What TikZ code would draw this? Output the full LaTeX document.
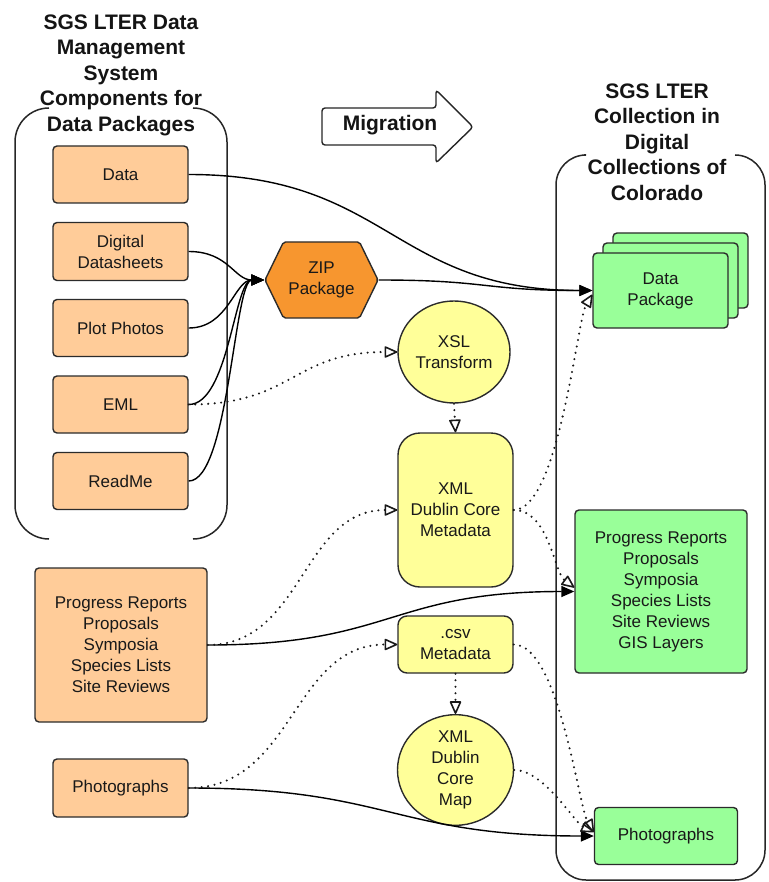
\documentclass[tikz,border=0pt]{standalone}
\usepackage{fontspec}
\setmainfont{Liberation Sans}
\usetikzlibrary{arrows.meta,shapes.geometric,calc}
\definecolor{peach}{HTML}{FFCC99}
\definecolor{zipor}{HTML}{F7962F}
\definecolor{yel}{HTML}{FFFF99}
\definecolor{grn}{HTML}{99FF99}
\definecolor{edgec}{HTML}{2B2B2B}
\tikzset{
  base/.style={draw=edgec, line width=1.4pt, text=black!90, font=\fontsize{17}{21}\selectfont, align=center, inner sep=0pt},
  obox/.style={base, rectangle, rounded corners=4pt, fill=peach, minimum width=135pt, minimum height=57pt},
  gbox/.style={base, rectangle, rounded corners=4pt, fill=grn},
  ybox/.style={base, rectangle, fill=yel, minimum width=115pt},
  yell/.style={base, ellipse, fill=yel},
  ttl/.style={font=\bfseries\fontsize{21}{25.5}\selectfont, align=center, text=black!92, inner sep=0pt},
  cont/.style={draw=black!85, line width=1.5pt},
  solidarr/.style={draw=black, line width=1.4pt, -{Triangle[length=13pt,width=11pt]}},
  dotarr/.style={draw=black!90, line width=2.3pt, line cap=round, dash pattern=on 0pt off 6.5pt,
    -{Triangle[open,length=14pt,width=12pt,line width=1.6pt,round]}}
}
\begin{document}
\begin{tikzpicture}[x=1pt,y=-1pt]
\useasboundingbox (0,0) rectangle (768,882);
% containers
\draw[cont, rounded corners=34pt] (49,108) -- (15,108) -- (15,539) -- (49,539);
\draw[cont, rounded corners=34pt] (193,108) -- (227,108) -- (227,539) -- (193,539);
\draw[cont, rounded corners=30pt] (584,155) -- (556,155) -- (556,880) -- (765,880) -- (765,155) -- (735,155);
% titles
\node[ttl] (tl) at (121,75) {SGS LTER Data\\Management\\System\\Components for\\Data Packages};
\node[ttl] (tr) at (657,142) {SGS LTER\\Collection in\\Digital\\Collections of\\Colorado};
% migration arrow
\draw[cont, fill=white, line width=1.4pt, rounded corners=3pt] (322,108) -- (436,108) -- (436,90) -- (473,127) -- (436,163) -- (436,145) -- (322,145) -- cycle;
\node[ttl] (mig) at (390,125) {Migration};
% left boxes
\node[obox] (data) at (120.5,174.5) {Data};
\node[obox, minimum height=58pt] (dsheet) at (120.5,251.5) {Digital\\Datasheets};
\node[obox] (plot) at (120.5,328) {Plot Photos};
\node[obox] (eml) at (120.5,404.5) {EML};
\node[obox] (readme) at (120.5,481) {ReadMe};
\node[obox, minimum width=172pt, minimum height=154pt] (progL) at (121,645) {Progress Reports\\Proposals\\Symposia\\Species Lists\\Site Reviews};
\node[obox, minimum height=58pt] (photoL) at (120.5,788) {Photographs};
% zip hexagon
\coordinate (zc) at (321.5,280);
\filldraw[draw=edgec, line width=1.4pt, fill=zipor, rounded corners=2pt] ($(zc)+(-56.5,0)$) -- ($(zc)+(-38,-38)$) -- ($(zc)+(38,-38)$) -- ($(zc)+(56.5,0)$) -- ($(zc)+(38,38)$) -- ($(zc)+(-38,38)$) -- cycle;
\node[base, draw=none, minimum width=113pt, minimum height=76pt] (zip) at (zc) {ZIP\\Package};
% yellow middle
\node[yell, minimum width=112pt, minimum height=102pt] (xsl) at (454,352) {XSL\\Transform};
\node[ybox, rounded corners=22pt, minimum height=154pt] (xmldc) at (455.5,510) {XML\\Dublin Core\\Metadata};
\node[ybox, rounded corners=9pt, minimum height=57pt] (csv) at (455.5,644.5) {.csv\\Metadata};
\node[yell, minimum width=116pt, minimum height=96pt] (map) at (455.5,770) {XML\\Dublin\\Core\\Map};
% green right
\node[gbox, minimum width=135pt, minimum height=75pt] (dpk3) at (680.5,270.5) {};
\node[gbox, minimum width=135pt, minimum height=75pt] (dpk2) at (670.5,280.5) {};
\node[gbox, minimum width=135pt, minimum height=75pt] (dpk) at (660.5,290.5) {Data\\Package};
\node[gbox, minimum width=172pt, minimum height=163pt] (progR) at (661,591.5) {Progress Reports\\Proposals\\Symposia\\Species Lists\\Site Reviews\\GIS Layers};
\node[gbox, minimum width=143pt, minimum height=57pt] (photoR) at (666,836) {Photographs};
% solid connectors
\draw[solidarr] (data.east) .. controls +(200,0) and +(-200,0) .. (dpk.west);
\draw[solidarr] (zip.east) .. controls +(110,0) and +(-110,0) .. (dpk.west);
\draw[solidarr] (dsheet.east) .. controls +(40,0) and +(-30,0) .. (zip.west);
\draw[solidarr] (plot.east) .. controls +(40,0) and +(-30,0) .. (zip.west);
\draw[solidarr] (eml.east) .. controls +(40,0) and +(-30,0) .. (zip.west);
\draw[solidarr] (readme.east) .. controls +(40,0) and +(-30,0) .. (zip.west);
\draw[solidarr] (progL.east) .. controls +(185,0) and +(-185,0) .. (progR.west);
\draw[solidarr] (photoL.east) .. controls +(200,0) and +(-200,0) .. (photoR.west);
% dotted connectors
\draw[dotarr] (eml.east) .. controls +(105,0) and +(-105,0) .. (xsl.west);
\draw[dotarr] (xsl.south) -- (xmldc.north);
\draw[dotarr] (progL.east) .. controls +(95,0) and +(-95,0) .. (xmldc.west);
\draw[dotarr] (xmldc.east) .. controls +(45,0) and +(-15,25) .. ([yshift=-4pt]dpk.west);
\draw[dotarr] (xmldc.east) .. controls +(35,0) and +(-20,-15) .. ([yshift=4pt]progR.west);
\draw[dotarr] (photoL.east) .. controls +(105,0) and +(-105,0) .. (csv.west);
\draw[dotarr] (csv.south) -- (map.north);
\draw[dotarr] (csv.east) .. controls +(45,0) and +(-15,-25) .. ([yshift=4pt]photoR.west);
\draw[dotarr] (map.east) .. controls +(30,0) and +(-20,-10) .. ([yshift=4pt]photoR.west);
\end{tikzpicture}
\end{document}
